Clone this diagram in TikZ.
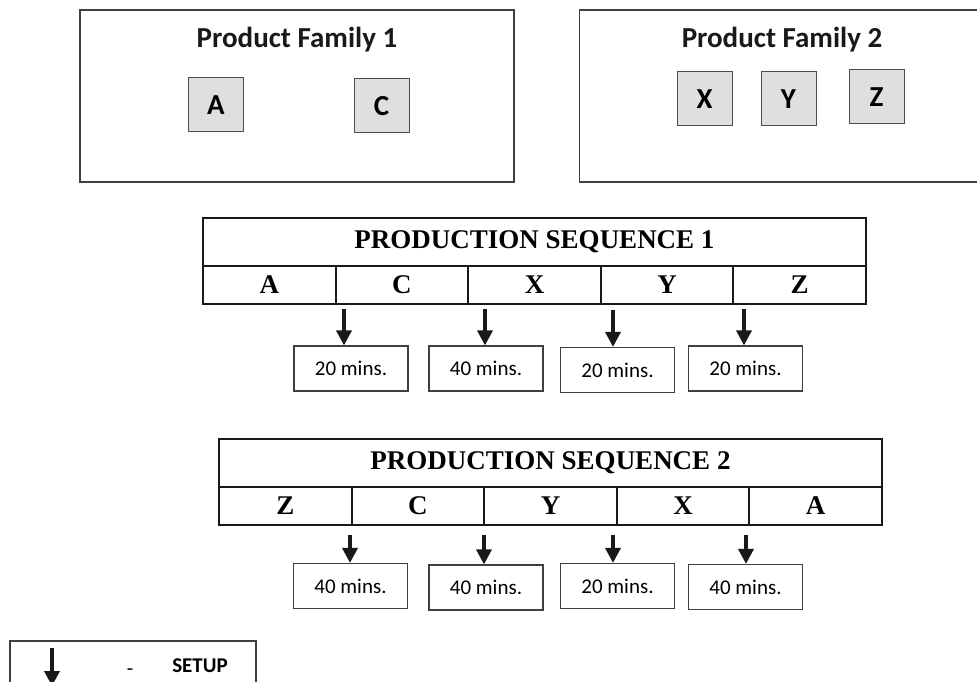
\documentclass[tikz,border=0pt]{standalone}
\usepackage{fontspec}
\setmainfont{Liberation Serif}
\newfontfamily\carlito{Carlito}
\usetikzlibrary{arrows.meta}

\begin{document}
\begin{tikzpicture}[x=1pt, y=-1pt,
    family/.style={draw=black!75, line width=1.2pt, minimum width=434pt, minimum height=172pt, inner sep=0pt},
    famtitle/.style={font=\carlito\bfseries\fontsize{29}{34}\selectfont, text=black!90},
    product/.style={draw=black!70, fill=gray!25, line width=1pt, minimum width=55pt, minimum height=54pt, inner sep=0pt, font=\carlito\bfseries\fontsize{29}{34}\selectfont},
    seqtitle/.style={draw=black!90, line width=2pt, minimum width=663pt, minimum height=48pt, inner sep=0pt, font=\bfseries\fontsize{27}{32}\selectfont},
    cell/.style={draw=black!90, line width=2pt, minimum width=132.6pt, minimum height=38pt, inner sep=0pt, font=\bfseries\fontsize{27}{32}\selectfont},
    timebox/.style={draw=black!75, line width=1.2pt, minimum width=114pt, minimum height=45pt, inner sep=0pt, font=\carlito\fontsize{21}{25}\selectfont},
    setuparrow/.style={line width=3.5pt, black!90, -{Triangle[width=15pt, length=15pt]}},
    ]

\clip (0,0) rectangle (977,682);

% Product families
\node[family] (fam1) at (297,96) {};
\node[famtitle] (fam1t) at (297,40) {Product Family 1};
\node[product] (pA) at (216,105) {A};
\node[product] (pC) at (381.5,106) {C};

\node[family, minimum width=421pt, anchor=west] (fam2) at (579,96) {};
\node[famtitle] (fam2t) at (782,40) {Product Family 2};
\node[product] (pX) at (704.5,99) {X};
\node[product] (pY) at (788.5,99) {Y};
\node[product] (pZ) at (876.5,97) {Z};

% Production sequence 1
\node[seqtitle] (seq1) at (534.5,242) {PRODUCTION SEQUENCE 1};
\foreach \lab [count=\i] in {A,C,X,Y,Z}
    \node[cell] (s1c\i) at ({203+132.6*(\i-0.5)},285) {\lab};

\node[timebox] (t1a) at (351,368.5) {20 mins.};
\node[timebox] (t1b) at (486,368.5) {40 mins.};
\node[timebox] (t1c) at (617.5,370) {20 mins.};
\node[timebox] (t1d) at (745.5,368.5) {20 mins.};

\coordinate (a1a) at (344,309);
\coordinate (a1b) at (485,309);
\coordinate (a1c) at (613,310);
\coordinate (a1d) at (744,309);
\draw[setuparrow] (a1a) -- (a1a |- t1a.north);
\draw[setuparrow] (a1b) -- (a1b |- t1b.north);
\draw[setuparrow] (a1c) -- (a1c |- t1c.north);
\draw[setuparrow] (a1d) -- (a1d |- t1d.north);

% Production sequence 2
\node[seqtitle] (seq2) at (550.5,463) {PRODUCTION SEQUENCE 2};
\foreach \lab [count=\i] in {Z,C,Y,X,A}
    \node[cell] (s2c\i) at ({219+132.6*(\i-0.5)},506) {\lab};

\node[timebox] (t2a) at (350.5,586) {40 mins.};
\node[timebox] (t2b) at (486,587.5) {40 mins.};
\node[timebox] (t2c) at (617.5,586) {20 mins.};
\node[timebox] (t2d) at (745.5,587) {40 mins.};

\coordinate (a2a) at (350,535);
\coordinate (a2b) at (484,535);
\coordinate (a2c) at (613,535);
\coordinate (a2d) at (746,535);
\draw[setuparrow] (a2a) -- (a2a |- t2a.north);
\draw[setuparrow] (a2b) -- (a2b |- t2b.north);
\draw[setuparrow] (a2c) -- (a2c |- t2c.north);
\draw[setuparrow] (a2d) -- (a2d |- t2d.north);

% Legend
\node[draw=black!75, line width=1.2pt, minimum width=246pt, minimum height=60pt, inner sep=0pt] (legend) at (133,671) {};
\coordinate (la) at (52,648);
\coordinate (lb) at (52,686);
\draw[setuparrow] (la) -- (lb);
\node[font=\carlito\fontsize{21}{25}\selectfont] (dash) at (130,672) {-};
\node[font=\carlito\bfseries\fontsize{21}{25}\selectfont] (setup) at (200,666) {SETUP};

\end{tikzpicture}
\end{document}
